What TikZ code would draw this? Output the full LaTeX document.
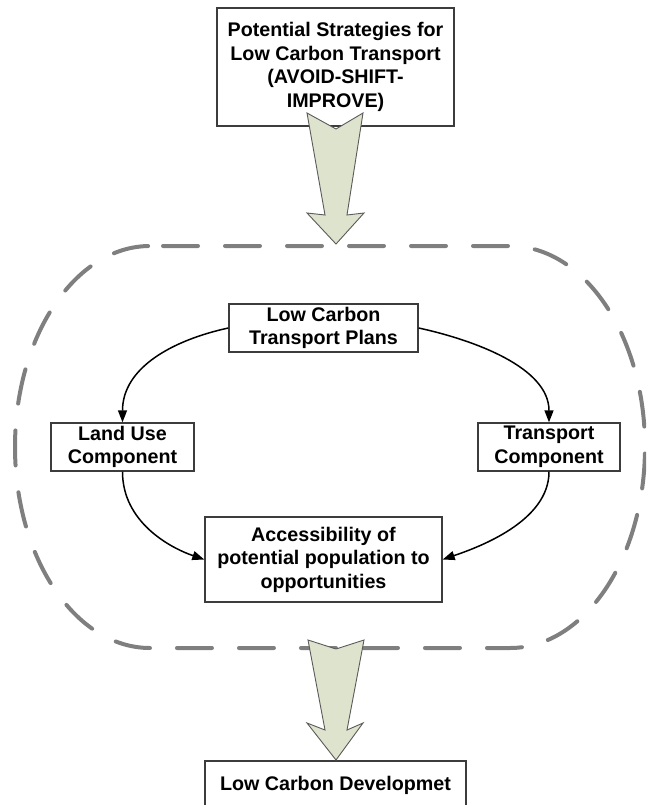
\documentclass[tikz,border=0pt]{standalone}
\usepackage{fontspec}
\setmainfont{Liberation Sans}
\usetikzlibrary{arrows.meta}
\definecolor{arrowfill}{HTML}{DDE3CD}
\definecolor{arrowline}{HTML}{5A5A5A}
\definecolor{ovalgray}{HTML}{7F7F7F}
\definecolor{boxline}{HTML}{3C3C3C}
\begin{document}
\begin{tikzpicture}[x=1pt,y=-1pt,
  box/.style={draw=boxline, line width=1.4pt, fill=white, align=center,
    inner sep=0pt, font=\fontsize{19.7}{23.5}\selectfont\bfseries},
  link/.style={line width=1.5pt, -{Triangle[length=12pt,width=9pt]}},
  blockarrow/.style={fill=arrowfill, draw=arrowline, line width=0.9pt, line join=miter},
  region/.style={draw=ovalgray, line width=4pt, line cap=round,
    dash pattern=on 35pt off 27pt, dash phase=49pt}]
\useasboundingbox (0,0) rectangle (646,805);
\clip (0,0) rectangle (646,805);

% dashed region around the planning components
\path[region] (150,246) -- (510,246)
  arc[start angle=90, end angle=-90, x radius=135pt, y radius=201pt]
  -- (150,648)
  arc[start angle=270, end angle=90, x radius=135pt, y radius=201pt];

% boxes
\node[box, minimum width=237pt, minimum height=118pt] (strategies) at (335.5,67)
  {Potential Strategies for\\Low Carbon Transport\\(AVOID-SHIFT-\\IMPROVE)};
\node[box, minimum width=189pt, minimum height=48pt] (plans) at (323.5,328)
  {Low Carbon\\Transport Plans};
\node[box, minimum width=143pt, minimum height=48pt] (landuse) at (122.5,447)
  {Land Use\\Component};
\node[box, minimum width=142pt, minimum height=48pt] (transport) at (549,447)
  {Transport\\Component};
\node[box, minimum width=237pt, minimum height=85pt] (access) at (323.5,559.5)
  {Accessibility of\\potential population to\\opportunities};
\node[box, minimum width=261pt, minimum height=48pt] (development) at (335.5,785)
  {Low Carbon Developmet};

% connectors
\draw[link] (plans.west) .. controls +(-55,12) and +(0,-55) .. (landuse.north);
\draw[link] (plans.east) .. controls +(55,12) and +(0,-55) .. (transport.north);
\draw[link] (landuse.south) .. controls +(0,50) and +(-35,-12) .. (access.west);
\draw[link] (transport.south) .. controls +(0,50) and +(35,-12) .. (access.east);

% block arrows
\draw[blockarrow] (307,113) -- (336,129) -- (363,113) -- (347,215) -- (364,213)
  -- (336,244) -- (307,213) -- (325,215) -- cycle;
\draw[blockarrow] (308,640) -- (336,649) -- (364,640) -- (347,730) -- (363,723)
  -- (336,760) -- (307,723) -- (325,730) -- cycle;
\end{tikzpicture}
\end{document}
